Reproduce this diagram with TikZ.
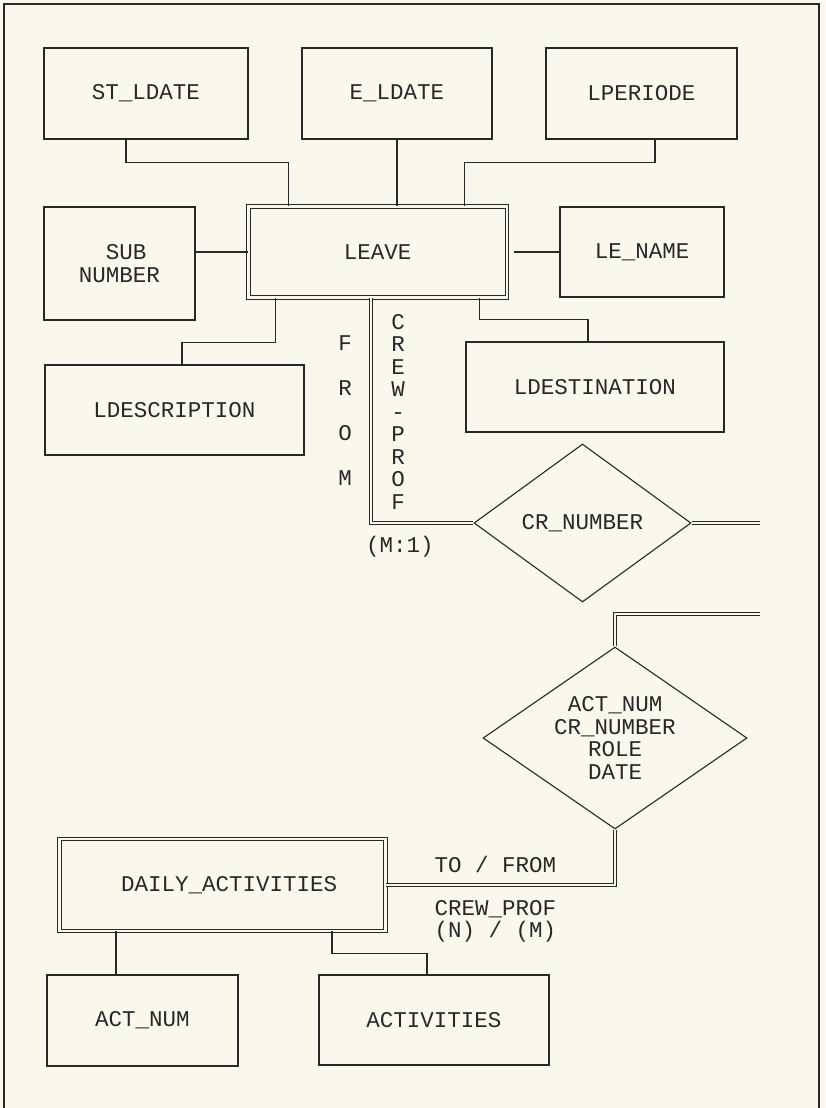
\documentclass[tikz,border=0pt]{standalone}
\usepackage{fontspec}
\setmonofont{Liberation Mono}
\usetikzlibrary{shapes.geometric}
\definecolor{paper}{RGB}{249,248,236}
\definecolor{ink}{RGB}{40,40,40}
\newcommand{\erfont}{\ttfamily\fontsize{22.5}{22.5}\selectfont}
\tikzstyle{attrib} = [rectangle, draw=ink, line width=1.1pt, fill=paper, text=ink, font=\erfont, inner sep=0pt]
\tikzstyle{entity} = [rectangle, draw=ink, double=paper, double distance=2.4pt, line width=1pt, fill=paper, text=ink, font=\erfont, inner sep=0pt]
\tikzstyle{relation} = [diamond, draw=ink, line width=1.1pt, fill=paper, text=ink, font=\erfont, inner sep=0pt, align=center]
\tikzstyle{lbl} = [text=ink, font=\erfont, inner sep=0pt, align=center]
\tikzstyle{link} = [draw=ink, line width=1.1pt]
\tikzstyle{dbl} = [draw=ink, double=paper, double distance=2.4pt, line width=1pt]

\begin{document}
\begin{tikzpicture}[x=1pt,y=-1pt]
\useasboundingbox (0,0) rectangle (825,1108);
\fill [paper] (0,0) rectangle (825,1108);
\draw [link] (4,1108) -- (4,4) -- (819,4) -- (819,1108);

\node (stdate) [attrib, minimum width=204pt, minimum height=91pt] at (146,93.5) {ST\_LDATE};
\node (edate) [attrib, minimum width=190pt, minimum height=91pt] at (397,93.5) {E\_LDATE};
\node (lperiode) [attrib, minimum width=191pt, minimum height=91pt] at (641.5,93.5) {LPERIODE};

\node (leave) [entity, minimum width=258.5pt, minimum height=91pt] at (377.75,252) {LEAVE};
\node (subnum) [attrib, minimum width=151pt, minimum height=113pt, align=center] at (119.5,263.5) {\hphantom{S}SUB\\NUMBER};
\node (lename) [attrib, minimum width=164pt, minimum height=90pt] at (642,252) {LE\_NAME};

\node (ldesc) [attrib, minimum width=259pt, minimum height=90pt] at (174.5,410) {LDESCRIPTION};
\node (ldest) [attrib, minimum width=258pt, minimum height=90pt] at (595,387) {LDESTINATION};

\node (crnum) [relation, aspect=1.37, minimum width=217pt, minimum height=158pt] at (582.5,523) {CR\_NUMBER};
\node (crewrole) [relation, aspect=1.45, minimum width=264pt, minimum height=182pt] at (615,738) {ACT\_NUM\\CR\_NUMBER\\ROLE\\DATE};

\node (daily) [entity, minimum width=326pt, minimum height=91.5pt] at (222.5,885) {\hphantom{D}DAILY\_ACTIVITIES};
\node (actnum) [attrib, minimum width=191pt, minimum height=91pt] at (142.5,1020.5) {ACT\_NUM};
\node (activ) [attrib, minimum width=230pt, minimum height=90pt] at (434,1020) {ACTIVITIES};

% role names and cardinalities
\node (from) [lbl] at (345,411) {F\\[22.5pt]R\\[22.5pt]O\\[22.5pt]M};
\node (crewprof) [lbl] at (398,411.5) {C\\R\\E\\W\\-\\P\\R\\O\\F};
\node (card1) [lbl] at (400,547) {(M:1)};
\node (tofrom) [lbl] at (495.5,864) {TO / FROM};
\node (card2) [lbl] at (495.5,921.5) {CREW\_PROF\\(N) / (M)};

% attribute links
\draw [link] ([xshift=-20pt]stdate.south) -- ++(0,23) -| ([xshift=-89pt]leave.north);
\draw [link] (edate.south) -- (edate.south |- leave.north);
\draw [link] ([xshift=13.5pt]lperiode.south) -- ++(0,23) -| ([xshift=87pt]leave.north);
\draw [link] (subnum.east |- leave.west) -- (leave.west);
\draw [link] ([xshift=6pt]leave.east) -- (lename.west);
\draw [link] ([xshift=-102pt]leave.south) -- ++(0,44.5) -| ([xshift=7.5pt]ldesc.north);
\draw [link] ([xshift=102pt]leave.south) -- ++(0,21.5) -| ([xshift=-7pt]ldest.north);
\draw [link] ([xshift=-26.5pt]actnum.north |- daily.south) -- ([xshift=-26.5pt]actnum.north);
\draw [link] ([xshift=109.5pt]daily.south) -- ++(0,22.5) -| ([xshift=-7pt]activ.north);

% relationship lines
\coordinate (cutA) at (760,523);
\coordinate (cutB) at (760,614);
\draw [dbl] ([xshift=-6.75pt]leave.south) |- (crnum.west);
\draw [dbl] (crnum.east) -- (cutA);
\draw [dbl] (cutB) -| (crewrole.north);
\draw [dbl] (crewrole.south) |- (daily.east);
\end{tikzpicture}
\end{document}
